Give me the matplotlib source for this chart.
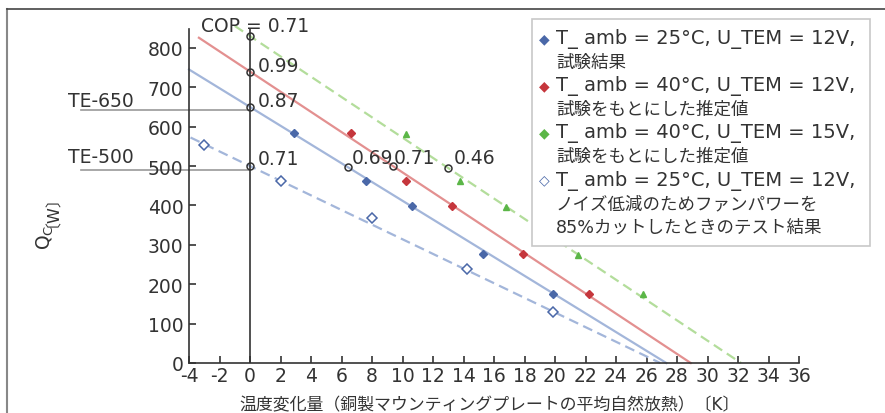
import matplotlib
matplotlib.use('Agg')
import matplotlib.pyplot as plt
from matplotlib.patches import Rectangle
from matplotlib.lines import Line2D

plt.rcParams['font.family'] = ['DejaVu Sans', 'Noto Sans CJK JP']

# measured points
blue_x = [2.9, 7.6, 10.6, 15.3, 19.9]
blue_y = [584, 463, 399, 276, 176]
red_x = [6.6, 10.2, 13.25, 17.9, 22.25]
red_y = [584, 463, 399, 276, 176]
green_x = [10.2, 13.8, 16.8, 21.5, 25.8]
green_y = [582, 463, 397, 274, 174]
open_x = [-3.0, 2.0, 8.0, 14.2, 19.9]
open_y = [553, 462, 369, 239, 130]

# fitted trend lines (start x, value at x=0, zero crossing)
blue_fit = (-4.0, 650, 27.3)
red_fit = (-3.35, 740, 28.9)
green_fit = (-1.0, 830, 32.2)
open_fit = (-3.9, 500, 26.9)

# COP markers and labels
cop_x = [0, 0, 0, 0, 6.4, 9.4, 13.0]
cop_y = [830, 740, 650, 500, 498, 499, 496]
cop_labels = ['COP = 0.71', '0.99', '0.87', '0.71', '0.69', '0.71', '0.46']
cop_lab_x = [-3.2, 0.5, 0.5, 0.5, 6.65, 9.4, 13.35]
cop_lab_y = [843, 741, 652, 505, 507, 507, 507]

te_labels = ['TE-650', 'TE-500']
te_y = [642, 490]
te_lab_y = [652, 511]

xticks = list(range(-4, 37, 2))
yticks = list(range(0, 801, 100))

c_blue, c_blue_l = '#4a68a8', '#a3b6da'
c_red, c_red_l = '#c5363c', '#e39090'
c_green, c_green_l = '#5bb647', '#b3dd9b'
dark = '#333333'

fig = plt.figure(figsize=(8.85, 4.14), dpi=100)
ax = fig.add_axes([189/885, 1-364/414, 610/885, 334/414])

# outer frame of the figure
fig.add_artist(Line2D([7/885, 7/885], [0, 1-10/414], transform=fig.transFigure,
                      color='#888888', lw=1.5))
fig.add_artist(Line2D([7/885, 1], [1-10/414, 1-10/414], transform=fig.transFigure,
                      color='#444444', lw=1.2))


def fit_line(fit):
    x0, q0, xz = fit
    slope = q0 / xz
    return [x0, xz], [q0 - slope*x0, 0]


for fit, col, ls in [(blue_fit, c_blue_l, '-'), (red_fit, c_red_l, '-'),
                     (green_fit, c_green_l, (0, (4.5, 2.5))),
                     (open_fit, c_blue_l, (0, (4.5, 2.5)))]:
    lx, ly = fit_line(fit)
    ax.plot(lx, ly, color=col, lw=1.6, ls=ls, zorder=2, clip_on=False)

ax.plot(blue_x, blue_y, 'D', color=c_blue, ms=4, zorder=3)
ax.plot(red_x, red_y, 'D', color=c_red, ms=4, zorder=3)
ax.plot(green_x, green_y, '^', color=c_green, ms=5, zorder=3)
ax.plot(open_x, open_y, 'D', mfc='white', mec=c_blue, mew=1.1, ms=5, zorder=3)

ax.axvline(0, color=dark, lw=1.2, zorder=2)
ax.plot(cop_x, cop_y, 'o', mfc='none', mec=dark, mew=1.1, ms=5, zorder=4)
for t, x, y in zip(cop_labels, cop_lab_x, cop_lab_y):
    ax.text(x, y, t, fontsize=13.5, color=dark, va='baseline', ha='left', zorder=5)

for t, y, yl in zip(te_labels, te_y, te_lab_y):
    ax.plot([-11.1, 0], [y, y], color='#999999', lw=1.2, clip_on=False, zorder=1)
    ax.text(-11.95, yl, t, fontsize=13.5, color=dark, va='baseline', ha='left')

ax.set_xlim(-4, 36)
ax.set_ylim(0, 848)
ax.set_xticks(xticks)
ax.set_xticklabels([str(v) for v in xticks])
ax.set_yticks(yticks)
for s in ['top', 'right']:
    ax.spines[s].set_visible(False)
for s in ['left', 'bottom']:
    ax.spines[s].set_color(dark)
    ax.spines[s].set_linewidth(1.2)
ax.tick_params(direction='in', length=5, width=1.2, color=dark,
               labelsize=13.5, labelcolor=dark)
ax.tick_params(axis='x', pad=2)
ax.tick_params(axis='y', pad=4)

# y label: mathtext part and CJK bracket part as two texts
fig.text(45/885, 1-250/414, 'Q$_\\mathrm{C}$', rotation=90, fontsize=13.5,
         color=dark, ha='center', va='bottom')
fig.text(44/885, 1-227/414, '〔W〕', rotation=90, fontsize=11.5,
         color=dark, ha='center', va='bottom')
fig.text(490/885, 1-405/414, '温度変化量（銅製マウンティングプレートの平均自然放熱）〔K〕',
         fontsize=12.2, color=dark, ha='center', va='center')

# legend box drawn by hand so the marker sits on the first line
fig.add_artist(Rectangle((532/885, 1-247/414), 338/885, 227/414,
                         transform=fig.transFigure, facecolor='white',
                         edgecolor='#c8c8c8', lw=1.2, zorder=10))
leg_marks = [('◆', c_blue), ('◆', c_red), ('◆', c_green), ('◇', c_blue)]
leg_lines = [['T_ amb = 25°C, U_TEM = 12V,', '試験結果'],
             ['T_ amb = 40°C, U_TEM = 12V,', '試験をもとにした推定値'],
             ['T_ amb = 40°C, U_TEM = 15V,', '試験をもとにした推定値'],
             ['T_ amb = 25°C, U_TEM = 12V,', 'ノイズ低減のためファンパワーを',
              '85%カットしたときのテスト結果']]
row = 0
for (m, col), lines in zip(leg_marks, leg_lines):
    fig.text(544/885, 1-(39 + 23.6*row)/414, m, color=col, fontsize=10,
             ha='center', va='center', zorder=11)
    for i, ln in enumerate(lines):
        fig.text(556/885, 1-(39 + 23.6*row)/414, ln, color=dark,
                 fontsize=14 if i == 0 else 12.6,
                 ha='left', va='center', zorder=11)
        row += 1

fig.savefig('out.png', dpi=100)
